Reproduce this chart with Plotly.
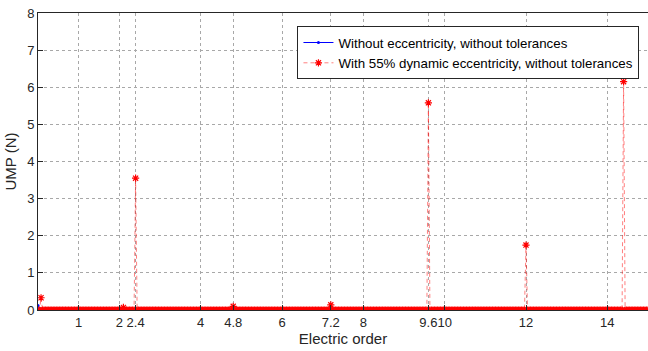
import numpy as np
import plotly.graph_objects as go

# Sampling grid of electric orders
order_step = 0.0375
orders = np.round(np.arange(0, 15.0 + 1e-9, order_step), 4)

# Without eccentricity: non-zero samples (all others read as 0)
blue_peak_orders = [0.0]
blue_peak_values = [0.12]

# With 55% dynamic eccentricity: non-zero samples (all others read as 0)
red_peak_orders = [0.075, 2.1, 2.4, 4.8, 7.2, 9.6, 12.0, 14.4]
red_peak_values = [0.33, 0.07, 3.55, 0.10, 0.14, 5.58, 1.75, 6.15]

x_tick_vals = [1, 2, 2.4, 4, 4.8, 6, 7.2, 8, 9.6, 10, 12, 14]
x_tick_text = ["1", "2", "2.4", "4", "4.8", "6", "7.2", "8", "9.6", "10", "12", "14"]


def series(peak_orders, peak_values):
    lookup = {round(o, 4): v for o, v in zip(peak_orders, peak_values)}
    return [lookup.get(round(float(o), 4), 0.0) for o in orders]


blue_vals = series(blue_peak_orders, blue_peak_values)
red_vals = series(red_peak_orders, red_peak_values)

fig = go.Figure()
fig.add_trace(go.Scatter(
    x=orders, y=blue_vals, mode="lines+markers",
    name="Without eccentricity, without tolerances",
    line=dict(color="#0000ff", width=1),
    marker=dict(symbol="circle", size=3, color="#0000ff"),
))
fig.add_trace(go.Scatter(
    x=orders, y=red_vals, mode="lines+markers",
    name="With 55% dynamic eccentricity, without tolerances",
    line=dict(color="rgba(255,0,0,0.5)", width=1, dash="4px,3px"),
    marker=dict(symbol="asterisk-open", size=6, color="#ff0000",
                line=dict(color="#ff0000", width=1.2)),
))

font_family = "Liberation Sans, Arial, sans-serif"
axis_font = dict(family=font_family, size=13, color="#262626")

fig.update_layout(
    width=648, height=351,
    margin=dict(l=38, r=0, t=13, b=41, autoexpand=False),
    paper_bgcolor="white", plot_bgcolor="white",
    font=axis_font,
    showlegend=True,
    legend=dict(
        x=0.986, y=0.955, xanchor="right", yanchor="top",
        bgcolor="white", bordercolor="#262626", borderwidth=1,
        font=dict(family=font_family, size=13.3, color="#000000"),
        tracegroupgap=0, itemwidth=30,
    ),
    xaxis=dict(
        range=[0, 15], tickmode="array", tickvals=x_tick_vals, ticktext=x_tick_text,
        tickangle=0, automargin=False,
        showgrid=True, gridcolor="#a8a8a8", griddash="dot", gridwidth=1,
        showline=True, linecolor="#262626", linewidth=1, mirror=True,
        ticks="inside", ticklen=5, tickcolor="#262626",
        zeroline=False,
        title=dict(text="Electric order", font=dict(size=15), standoff=2),
    ),
    yaxis=dict(
        range=[0, 8], dtick=1, tick0=0, automargin=False,
        showgrid=True, gridcolor="#a8a8a8", griddash="dot", gridwidth=1,
        showline=True, linecolor="#262626", linewidth=1, mirror=True,
        ticks="inside", ticklen=5, tickcolor="#262626",
        zeroline=False,
        title=dict(text="UMP (N)", font=dict(size=15), standoff=6),
    ),
)

fig.write_html("out.html")
